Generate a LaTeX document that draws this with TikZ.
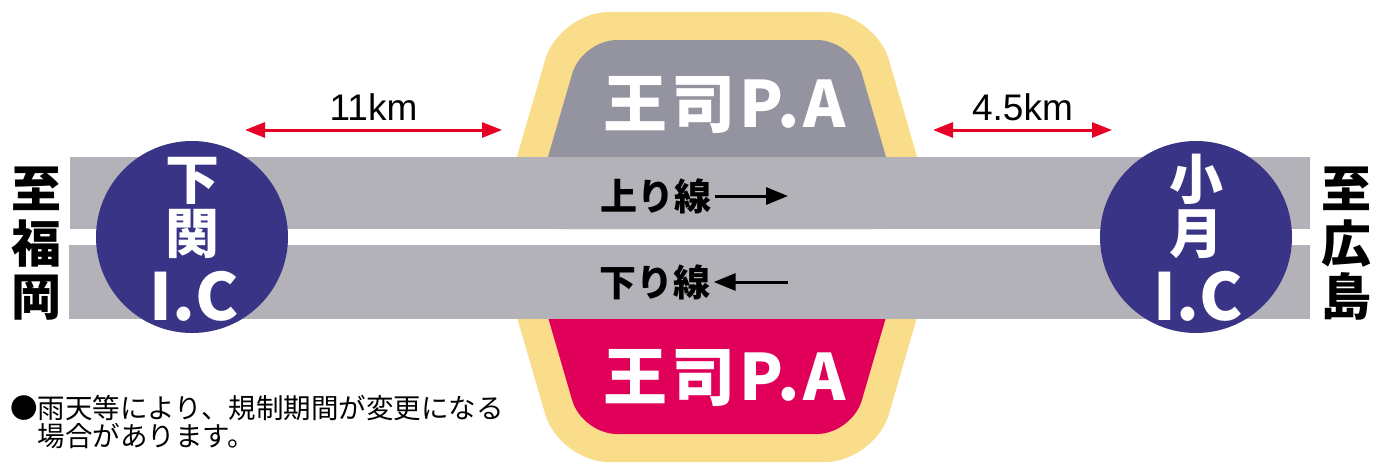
\documentclass[tikz,border=0pt]{standalone}
\usepackage{fontspec}
\usepackage{xcolor}
\setmainfont{Noto Sans CJK JP}
\newfontfamily\kmfont{Liberation Sans}
\newfontfamily\pafont[LetterSpace=6]{Noto Sans CJK JP}
\usetikzlibrary{arrows.meta}

\definecolor{payellow}{RGB}{249,221,139}
\definecolor{pagray}{RGB}{148,147,160}
\definecolor{pared}{RGB}{224,0,90}
\definecolor{roadgray}{RGB}{179,178,184}
\definecolor{icblue}{RGB}{58,52,134}
\definecolor{kmred}{RGB}{230,0,35}

\begin{document}
\begin{tikzpicture}[x=1pt,y=-1pt,
  ic/.style={circle,fill=icblue,minimum size=192pt,inner sep=0pt},
  ickanji/.style={anchor=base,text=white,inner sep=0pt,font=\fontsize{54}{54}\selectfont\bfseries},
  icroman/.style={anchor=base,text=white,inner sep=0pt,font=\fontsize{65}{65}\selectfont\bfseries},
  dest/.style={anchor=base,inner sep=0pt,font=\fontsize{50}{50}\selectfont\bfseries},
  pa/.style={text=white,inner sep=0pt,font=\pafont\fontsize{64}{64}\selectfont\bfseries},
  lane/.style={inner sep=3pt,font=\fontsize{37}{37}\selectfont\bfseries},
  dir/.style={-{Triangle[length=22pt,width=17pt]},line width=3pt},
  dist/.style={{Triangle[length=20pt,width=15pt]}-{Triangle[length=20pt,width=15pt]},line width=3pt,kmred},
  km/.style={above,inner sep=8pt,text=black,font=\kmfont\fontsize{37}{37}\selectfont}]
\useasboundingbox (0,0) rectangle (1385,463);

% parking area
\fill[payellow,rounded corners=50pt] (496,229) -- (559,12) -- (875,12) -- (938,229) -- cycle;
\fill[payellow,rounded corners=50pt] (496,245) -- (559,462) -- (875,462) -- (938,245) -- cycle;
\fill[pagray,rounded corners=35pt] (527,229) -- (582,40) -- (852,40) -- (907,229) -- cycle;
\fill[pared,rounded corners=35pt] (527,245) -- (582,434) -- (852,434) -- (907,245) -- cycle;

% roads
\fill[roadgray] (70,157) rectangle (1310,229);
\fill[roadgray] (69,245) rectangle (1310,319);

\node[pa] (paup) at (725,105) {王司P.A};
\node[pa] (padown) at (725,378) {王司P.A};

\node[lane] (up) at (656,196) {上り線};
\coordinate (upend) at (788,196);
\draw[dir] (up.east) -- (upend);
\node[lane] (down) at (655,282) {下り線};
\coordinate (downend) at (788,282);
\draw[dir] (downend) -- (down.east);

% interchanges
\node[ic] (shimo) at (192,237) {};
\node[ickanji] (shimo1) at (192,199) {下};
\node[ickanji] (shimo2) at (192,253) {関};
\node[icroman] (shimo3) at (194,320) {I.C};
\node[ic] (ozuki) at (1196,237) {};
\node[ickanji] (ozuki1) at (1196,199) {小};
\node[ickanji] (ozuki2) at (1196,253) {月};
\node[icroman] (ozuki3) at (1198,320) {I.C};

\node[dest] (fuk1) at (36,207) {至};
\node[dest] (fuk2) at (36,262) {福};
\node[dest] (fuk3) at (36,315) {岡};
\node[dest] (hir1) at (1346,207) {至};
\node[dest] (hir2) at (1346,262) {広};
\node[dest] (hir3) at (1346,315) {島};

% distances
\coordinate (a11) at (245,130);
\coordinate (b11) at (502,130);
\draw[dist] (a11) -- node[km] {11km} (b11);
\coordinate (a45) at (933,130);
\coordinate (b45) at (1112,130);
\draw[dist] (a45) -- node[km] {4.5km} (b45);

\node[anchor=north west,inner sep=0pt,align=left,font=\fontsize{27.5}{28}\selectfont] (note) at (10,395)
  {●雨天等により、規制期間が変更になる\\\phantom{●}場合があります。};
\end{tikzpicture}
\end{document}
